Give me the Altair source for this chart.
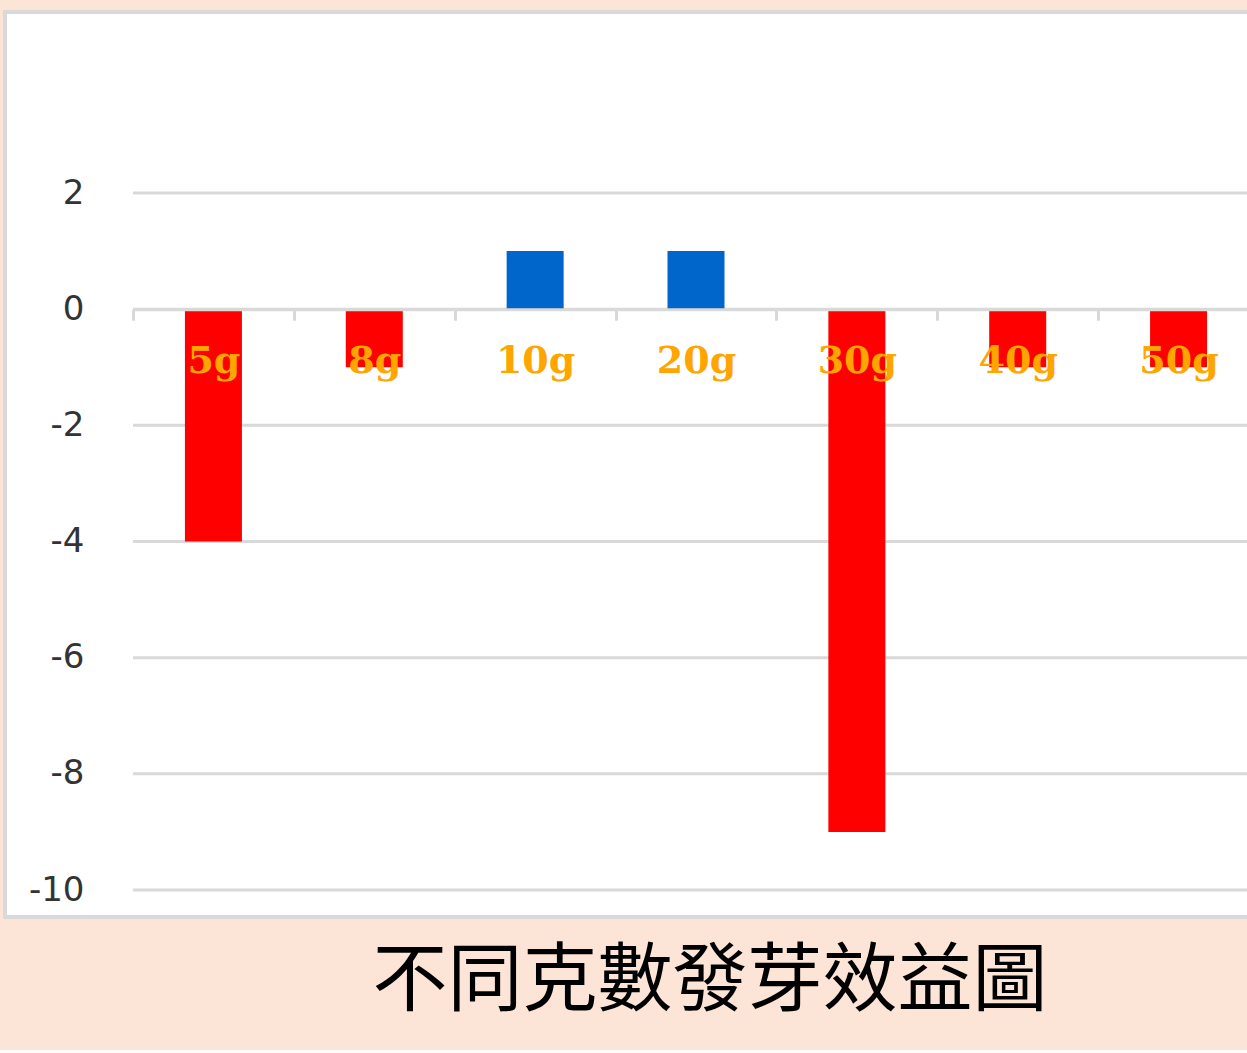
import altair as alt
import pandas as pd

CATEGORIES = ["5g", "8g", "10g", "20g", "30g", "40g", "50g"]
VALUES = [-4, -1, 1, 1, -9, -1, -1]
Y_TICKS = [2, 0, -2, -4, -6, -8, -10]
TITLE = "不同克數發芽效益圖"

df = pd.DataFrame({"cat": CATEGORIES, "v": VALUES})
grid_df = pd.DataFrame({"g": Y_TICKS})
panel_df = pd.DataFrame({"p": [0]})
title_df = pd.DataFrame({"t": [TITLE]})

W, H = 1114, 697
yscale = alt.Scale(domain=[-10, 2], nice=False)
yaxis = alt.Axis(
    title=None,
    values=Y_TICKS,
    domain=False,
    ticks=False,
    grid=False,
    labelFont="DejaVu Sans",
    labelFontSize=34,
    labelColor="#333333",
    labelPadding=49,
    labelExpr="'' + datum.value",
    zindex=1,
)

panel = alt.Chart(panel_df).mark_rect(
    fill="white", stroke="#D9D9D9", strokeWidth=4
).encode(
    x=alt.value(-128), x2=alt.value(1150), y=alt.value(-181), y2=alt.value(724)
)

grid = alt.Chart(grid_df).mark_rule(color="#D9D9D9", strokeWidth=3).encode(
    y=alt.Y("g:Q", scale=yscale, axis=yaxis),
    x=alt.value(0),
    x2=alt.value(1150),
)

bars = alt.Chart(df).mark_bar(size=57).encode(
    x=alt.X(
        "cat:N",
        sort=CATEGORIES,
        scale=alt.Scale(range=[0, 1126], paddingInner=0, paddingOuter=0),
        axis=alt.Axis(
            title=None,
            orient="bottom",
            offset=-580.8,
            domainColor="#D9D9D9",
            domainWidth=3,
            tickColor="#D9D9D9",
            tickWidth=3,
            tickSize=11,
            tickBand="extent",
            labelFont="DejaVu Serif",
            labelFontWeight="bold",
            labelFontSize=38,
            labelColor="#FFA500",
            labelPadding=22,
            labelAngle=0,
            grid=False,
            zindex=1,
        ),
    ),
    y=alt.Y("v:Q", scale=yscale, axis=yaxis),
    color=alt.condition("datum.v > 0", alt.value("#0066CC"), alt.value("#FF0000")),
)

title_txt = alt.Chart(title_df).mark_text(
    font="Noto Sans CJK TC", fontSize=75, color="black", align="center", baseline="middle"
).encode(text="t:N", x=alt.value(577), y=alt.value(789))

chart = alt.layer(panel, grid, bars, title_txt).properties(
    width=W,
    height=H,
    autosize=alt.AutoSizeParams(type="none"),
    padding={"left": 133, "top": 193, "right": 0, "bottom": 160},
).configure(background="#FCE4D6").configure_view(strokeWidth=0)

chart.save("out.html", embed_options={"renderer": "svg", "actions": False})
